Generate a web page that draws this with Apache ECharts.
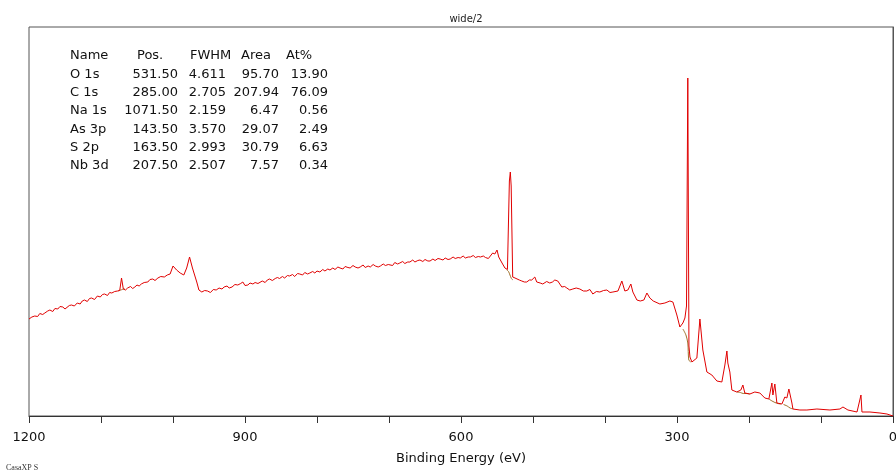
<!DOCTYPE html>
<html>
<head>
<meta charset="utf-8">
<script src="https://cdn.jsdelivr.net/npm/echarts@6/dist/echarts.min.js"></script>
<style>html,body{margin:0;padding:0;background:#fff}#c{width:896px;height:475px}</style>
</head>
<body>
<div id="c"></div>
<script>
// ---- Data (binding energy eV, intensity CPS) ----
const titleText = 'wide/2';
const xTickLabels = [1200, 900, 600, 300, 0];
const tableHeader = ['Name', 'Pos.', 'FWHM', 'Area', 'At%'];
const peakNames = ['O 1s', 'C 1s', 'Na 1s', 'As 3p', 'S 2p', 'Nb 3d'];
const peakPos = ['531.50', '285.00', '1071.50', '143.50', '163.50', '207.50'];
const peakFwhm = ['4.611', '2.705', '2.159', '3.570', '2.993', '2.507'];
const peakArea = ['95.70', '207.94', '6.47', '29.07', '30.79', '7.57'];
const peakAt = ['13.90', '76.09', '0.56', '2.49', '6.63', '0.34'];

const spectrumBE = [
1200,1196,1192,1188,1185,1181,1178,1174,1171,1167,1164,1160,1157,1153,1150,1148,1144,1141,1137,1133,
1129,1126,1123,1119,1116,1113,1109,1105,1101,1098,1095,1091,1088,1085,1081,1077,1074,1071.5,1069,1066,
1063,1059,1056,1053,1050,1047,1044,1040,1035,1032,1028,1025,1021,1017,1012,1008,1004,1000,995,990,
985,981,977,973,967,964,960,956,952,948,944,940,936,932,929,925,922,918,914,910,
906,903,900,896,893,889,886,882,880,876,872,869,866,862,858,855,852,848,845,841,
838,834,831,827,824,820,817,813,810,806,803,800,796,792,789,785,782,778,775,771,
768,764,761,757,754,750,747,743,740,736,733,729,726,722,719,715,712,708,705,701,
699,695,692,688,685,681,678,674,671,667,664,660,657,653,650,646,643,639,636,632,
629,625,622,618,615,611,608,604,601,597,594,590,587,583,580,576,573,569,566,562,
560,556,553,550,547.6,543,539,536.4,535.5,532.8,531.5,530.3,528.2,525,522.6,519,515.6,512,508.7,505,
501.7,497.5,494.8,490,486.4,481,476.7,473,469.7,465.6,460,456,453,449,444.7,440,435,430,425.3,421,
416.9,412,407.2,402,397.4,393,389,382,376.6,372.4,368.2,364.1,361.3,355.7,351,348.8,346,341.8,337.7,333,
330.7,323.8,316.8,309.9,305.7,300.2,296,291.8,289,286.8,285,283.4,282,279.3,276.6,272.4,268.2,264.1,258.5,251.6,
244.6,237.7,233.5,230.7,229.4,226.6,223.8,216.9,211.3,208.5,205.8,198.8,191.9,184.9,178,172.4,168.2,166.8,164.1,161.3,
154.3,150.2,147.4,144.6,140.4,139,129.3,119.6,105.7,87.6,73.7,69.5,62.6,50,48.6,44.5,43.1,32,18.1,8.4,
0
];
const spectrumCPS = [
19400,19800,20000,19900,20500,20300,20600,21000,21200,20900,21500,21400,21900,21800,21400,21600,22100,22200,22000,22600,
22400,23000,23200,22900,23500,23600,23300,24000,23800,24300,24400,24100,24700,24600,24900,25000,25100,27600,25400,25200,
25600,25900,25500,25800,26200,26000,26400,26700,26800,27300,27400,27100,27600,27900,27800,28200,28400,30000,29200,28600,
28200,29600,31800,29600,26800,25200,24800,25100,25000,24700,25300,25200,25600,25400,25800,26000,25600,25800,26300,26200,
26500,26800,26100,26200,26600,26400,26700,26500,26800,27000,26700,27200,27400,27100,27500,27700,27500,27900,27600,28100,
28000,28300,27900,28500,28400,28200,28700,28400,28600,28900,28600,29000,28800,29300,29000,29400,29200,29600,29300,29800,
29600,29400,29900,29700,29600,30100,29800,29600,29800,30200,29700,30000,29800,30300,30000,29800,30000,30400,30100,30300,
30400,30100,30700,30400,30600,30900,30500,30800,30800,31200,30800,31100,31200,30900,31300,31000,31000,31400,31100,31500,
31400,31200,31600,31300,31400,31800,31500,31700,31600,32000,31600,31800,31800,32100,31700,31900,31800,32000,31700,31500,
31600,32600,32400,33200,31800,30600,29600,29200,29300,47000,48800,46000,27800,27600,27600,27200,27000,26800,26800,27200,
27200,27800,26800,26600,26400,26900,26600,26800,27200,27000,25800,25900,25600,25200,25400,25600,25400,25000,25000,25300,
24400,24900,24800,25100,25200,24700,24800,25000,27000,25000,25200,26400,24800,23200,23000,22800,23200,24600,23600,23000,
22800,22400,22600,23000,22800,20200,17800,18600,19600,22000,67600,14000,11800,10800,10600,11600,19400,13200,8800,8200,
7000,6800,10200,13000,10600,8800,5200,4800,5200,6200,4600,4400,4800,4600,3600,3400,6600,4200,6400,2600,
2400,3800,3600,5400,2600,1400,1200,1200,1400,1200,1400,1800,1200,800,1200,4200,800,800,600,400,
0
];

// Shirley background segments under fitted peaks
const bgNaBE = [1076, 1071.5, 1067];   const bgNaCPS = [25050, 25250, 25450];
const bgOBE = [536.4, 534, 532, 530, 528];  const bgOCPS = [29200, 28900, 28200, 27500, 27200];
const bgCBE = [291.8, 287.6, 285, 283.6, 280.8]; const bgCCPS = [17400, 16200, 14600, 11200, 10800];
const bgNbBE = [216.9, 212, 208, 204, 199]; const bgNbCPS = [4800, 4700, 4500, 4500, 4400];
const bgSBE = [172.4, 168, 164, 160, 156]; const bgSCPS = [3400, 3000, 2700, 2500, 2400];
const bgAsBE = [152, 147, 143, 139]; const bgAsCPS = [2300, 2000, 1600, 1400];

const zip = (a, b) => a.map((v, i) => [v, b[i]]);

const chart = echarts.init(document.getElementById('c'), null, {renderer: 'canvas'});

const gridLeft = 29, gridRight = 3, gridTop = 27, gridBottom = 59;
const bgColor = '#A0702A';
const bgSeries = [[bgNaBE,bgNaCPS],[bgOBE,bgOCPS],[bgCBE,bgCCPS],[bgNbBE,bgNbCPS],[bgSBE,bgSCPS],[bgAsBE,bgAsCPS]].map(p => ({
  type: 'line', data: zip(p[0], p[1]), showSymbol: false, silent: true, z: 1,
  lineStyle: {color: bgColor, width: 1}, smooth: 0.3
}));

// table text
const colX = [70, 178, 226, 279, 328];
const headX = [70, 137, 190, 241, 286];
const rowY0 = 56, rowDy = 18.3;
const font = '13px "DejaVu Sans", sans-serif';
const gTexts = [];
tableHeader.forEach((h, j) => gTexts.push({type: 'text', x: headX[j], y: rowY0, style: {text: h, font: font, fill: '#111', textVerticalAlign: 'middle'}}));
const cols = [peakNames, peakPos, peakFwhm, peakArea, peakAt];
peakNames.forEach((n, i) => {
  cols.forEach((col, j) => {
    const s = {text: col[i], font: font, fill: '#111', textAlign: j === 0 ? 'left' : 'right', textVerticalAlign: 'middle'};
    gTexts.push({type: 'text', x: colX[j], y: rowY0 + rowDy * (i + 1), style: s});
  });
});
gTexts.push({type: 'text', left: 6, top: 464, style: {text: 'CasaXP S', font: '8px "Liberation Serif", serif', fill: '#333'}});

chart.setOption({
  animation: false,
  backgroundColor: '#fff',
  title: {text: titleText, left: 461, textAlign: 'center', top: 9,
    textStyle: {fontSize: 10, fontWeight: 'normal', color: '#222', fontFamily: '"DejaVu Sans", sans-serif'}},
  grid: {left: gridLeft, right: gridRight, top: gridTop, bottom: gridBottom, show: true, borderColor: '#555', borderWidth: 1,
    backgroundColor: 'transparent', containLabel: false, outerBoundsMode: 'none'},
  xAxis: {
    type: 'value', min: 0, max: 1200, interval: 100, inverse: true,
    name: 'Binding Energy (eV)', nameLocation: 'middle', nameGap: 36,
    nameTextStyle: {fontSize: 13, color: '#111', fontFamily: '"DejaVu Sans", sans-serif'},
    axisLine: {show: true, lineStyle: {color: '#333', width: 1}},
    axisTick: {show: true, inside: false, length: 7, lineStyle: {color: '#333'}},
    axisLabel: {show: true, margin: 15, fontSize: 13, color: '#111', fontFamily: '"DejaVu Sans", sans-serif',
      formatter: v => (xTickLabels.indexOf(v) >= 0 ? String(v) : ''), showMinLabel: true, showMaxLabel: true, hideOverlap: false},
    splitLine: {show: false}
  },
  yAxis: {
    type: 'value', min: 0, max: 77800,
    axisLine: {show: true, lineStyle: {color: '#555'}}, axisTick: {show: false}, axisLabel: {show: false}, splitLine: {show: false}
  },
  series: [{
    type: 'line', data: zip(spectrumBE, spectrumCPS), showSymbol: false, z: 3,
    lineStyle: {color: '#E00000', width: 1}
  }].concat(bgSeries),
  graphic: gTexts
});
</script>
</body>
</html>
